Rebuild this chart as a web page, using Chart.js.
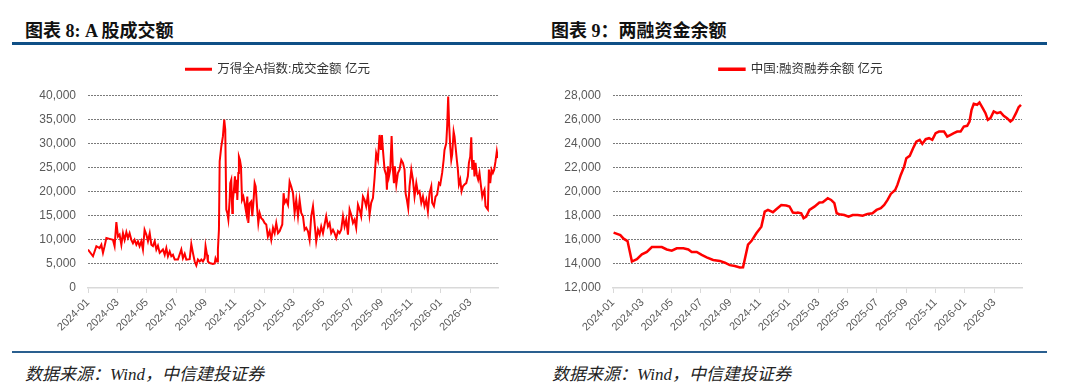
<!DOCTYPE html>
<html>
<head>
<meta charset="utf-8">
<script src="https://cdn.jsdelivr.net/npm/chart.js@4.4.1/dist/chart.umd.min.js"></script>
<style>
    body { margin: 0; width: 1080px; height: 390px; background: #fff; position: relative; overflow: hidden; }
    .title { position: absolute; top: 16px; line-height: 18px; font: bold 18px "Liberation Serif", "Noto Sans CJK SC", serif; color: #111; }
    .rule { position: absolute; left: 12px; width: 1035px; background: #0f4f86; }
    .source { position: absolute; top: 360px; line-height: 17px; font: italic 17px "Liberation Serif", "Noto Sans CJK SC", serif; color: #222; }
    canvas { position: absolute; top: 50px; }
</style>
</head>
<body>
<div class="title" style="left:25px">图表 8: A 股成交额</div>
<div class="title" style="left:551px">图表 9：两融资金余额</div>
<div class="rule" style="top:42px;height:3px"></div>
<canvas id="volumeChart" width="528" height="300" style="left:12px"></canvas>
<canvas id="marginChart" width="500" height="300" style="left:552px"></canvas>
<div class="rule" style="top:351px;height:2px;background:#2a5f8f"></div>
<div class="source" style="left:25px">数据来源：Wind，中信建投证券</div>
<div class="source" style="left:552px">数据来源：Wind，中信建投证券</div>
<script>
// x values are months since 2024-01
const tickLabels = ['2024-01', '2024-03', '2024-05', '2024-07', '2024-09', '2024-11', '2025-01',
    '2025-03', '2025-05', '2025-07', '2025-09', '2025-11', '2026-01', '2026-03'];

const volumeLabel = '万得全A指数:成交金额 亿元';
const volumeMonths = [
    0.00, 0.34, 0.57, 0.79, 0.91, 1.02, 1.13, 1.25, 1.47, 1.70,
    1.81, 1.93, 2.04, 2.15, 2.27, 2.38, 2.49, 2.61, 2.72, 2.83,
    2.95, 3.06, 3.17, 3.29, 3.40, 3.51, 3.63, 3.74, 3.85, 3.97,
    4.08, 4.20, 4.31, 4.42, 4.54, 4.65, 4.76, 4.88, 5.10, 5.22,
    5.33, 5.44, 5.56, 5.67, 5.78, 5.90, 6.12, 6.35, 6.46, 6.58,
    6.69, 6.92, 7.03, 7.14, 7.26, 7.37, 7.48, 7.60, 7.71, 7.82,
    7.94, 8.00, 8.10, 8.16, 8.28, 8.50, 8.62, 8.68, 8.78, 8.84,
    8.91, 8.96, 9.07, 9.18, 9.27, 9.34, 9.41, 9.48, 9.55, 9.64,
    9.68, 9.75, 9.82, 9.86, 9.93, 10.00, 10.05, 10.11, 10.16, 10.23,
    10.27, 10.34, 10.41, 10.48, 10.57, 10.66, 10.77, 10.84, 10.91, 11.00,
    11.11, 11.18, 11.27, 11.34, 11.41, 11.50, 11.59, 11.68, 11.79, 11.90,
    12.02, 12.13, 12.24, 12.36, 12.47, 12.59, 12.70, 12.81, 12.93, 13.04,
    13.22, 13.31, 13.38, 13.49, 13.61, 13.72, 13.83, 13.95, 14.06, 14.17,
    14.29, 14.40, 14.51, 14.63, 14.74, 14.85, 14.97, 15.08, 15.19, 15.31,
    15.42, 15.53, 15.65, 15.76, 15.87, 15.99, 16.10, 16.21, 16.33, 16.44,
    16.55, 16.67, 16.78, 16.89, 17.01, 17.12, 17.23, 17.35, 17.46, 17.57,
    17.69, 17.80, 17.91, 18.03, 18.14, 18.25, 18.37, 18.48, 18.59, 18.71,
    18.82, 18.93, 19.05, 19.16, 19.27, 19.39, 19.50, 19.61, 19.73, 19.84,
    19.93, 20.00, 20.07, 20.18, 20.29, 20.34, 20.41, 20.48, 20.57, 20.66,
    20.75, 20.82, 20.88, 20.98, 21.09, 21.20, 21.32, 21.43, 21.54, 21.61,
    21.70, 21.79, 21.88, 22.00, 22.11, 22.22, 22.34, 22.45, 22.56, 22.68,
    22.79, 22.90, 23.02, 23.13, 23.24, 23.36, 23.42, 23.54, 23.65, 23.76,
    23.88, 23.97, 24.10, 24.20, 24.26, 24.38, 24.44, 24.51, 24.58, 24.65,
    24.72, 24.78, 24.88, 24.94, 25.01, 25.10, 25.17, 25.24, 25.33, 25.42,
    25.51, 25.62, 25.74, 25.85, 25.92, 26.01, 26.08, 26.15, 26.24, 26.30,
    26.37, 26.46, 26.55, 26.64, 26.73, 26.83, 26.89, 26.98, 27.05, 27.14,
    27.21, 27.28, 27.37, 27.46, 27.55, 27.64, 27.73, 27.82, 27.89
];
const volumeValues = [
    8000, 6600, 8700, 8300, 9000, 7300, 8700, 10400, 10200, 10000,
    8700, 13700, 10700, 11100, 9000, 11400, 10000, 11600, 10400, 11400,
    10000, 9300, 10000, 9000, 9700, 8700, 9700, 8000, 12100, 11100,
    9700, 11400, 9000, 8700, 9700, 8000, 8800, 7300, 8000, 6900,
    8300, 6600, 7600, 6600, 6900, 5900, 5900, 8000, 6200, 7100,
    5900, 6000, 9100, 7300, 5500, 4700, 5900, 5500, 5900, 5500,
    6200, 8700, 6900, 5500, 5200, 5000, 5100, 6200, 5500, 8000,
    12100, 26300, 29400, 31500, 35000, 32900, 16300, 15600, 14200, 18300,
    21800, 22500, 15600, 18300, 20400, 23200, 19700, 22500, 18300, 23900,
    27300, 26600, 25300, 18300, 19000, 17600, 15600, 19000, 13500, 17600,
    18000, 14900, 18300, 21800, 21100, 17000, 13500, 15600, 14500, 14200,
    13500, 13200, 10700, 11800, 10000, 12500, 11400, 13500, 11400, 11800,
    13200, 19700, 17700, 18300, 17300, 22100, 21100, 19700, 15600, 18300,
    14900, 18300, 15600, 14900, 12100, 12500, 11800, 10000, 14900, 17000,
    13500, 9700, 12100, 11100, 12800, 11400, 13200, 14900, 12800, 13500,
    11400, 12100, 11400, 10400, 11800, 11400, 12100, 14900, 12800, 14200,
    11100, 16300, 15200, 13500, 14200, 12500, 17300, 16300, 14900, 19000,
    18300, 17000, 19400, 15200, 17700, 18700, 22800, 28000, 26600, 31800,
    28700, 31800, 28700, 24600, 23500, 20400, 25300, 23200, 24600, 31600,
    24600, 21800, 25300, 21500, 23900, 24600, 26600, 26000, 24600, 19700,
    18300, 16600, 21100, 24600, 22500, 19000, 21800, 19700, 20100, 17700,
    19000, 17000, 18300, 15900, 19700, 21100, 17700, 17000, 19000, 19400,
    21800, 21500, 23900, 26600, 28700, 30100, 33600, 39800, 33600, 29400,
    26600, 27700, 32500, 31500, 29400, 26600, 24600, 21500, 22500, 20100,
    21100, 21500, 21800, 23200, 26000, 27300, 31300, 24600, 26600, 23200,
    26000, 23500, 22500, 23900, 21500, 19000, 19700, 20400, 17000, 16600,
    16300, 24600, 21800, 24600, 23900, 24600, 26300, 28400, 27000
];

const marginLabel = '中国:融资融券余额 亿元';
const marginMonths = [
    0.04, 0.50, 0.72, 0.99, 1.29, 1.63, 1.97, 2.31, 2.65, 2.99,
    3.33, 3.67, 4.01, 4.35, 4.80, 5.14, 5.37, 5.71, 6.05, 6.39,
    6.83, 7.29, 7.63, 7.97, 8.31, 8.65, 8.87, 9.21, 9.44, 9.78,
    10.12, 10.35, 10.57, 10.91, 11.14, 11.48, 11.82, 12.04, 12.27, 12.50,
    12.61, 12.84, 13.00, 13.18, 13.40, 13.74, 14.08, 14.31, 14.65, 14.88,
    15.10, 15.26, 15.44, 15.78, 16.07, 16.35, 16.69, 17.03, 17.36, 17.70,
    17.98, 18.27, 18.50, 18.73, 18.95, 19.25, 19.40, 19.63, 19.86, 20.01,
    20.24, 20.47, 20.69, 20.92, 21.10, 21.33, 21.56, 21.78, 22.01, 22.24,
    22.58, 22.80, 23.03, 23.25, 23.48, 23.71, 23.93, 24.16, 24.32, 24.46,
    24.61, 24.84, 25.00, 25.22, 25.41, 25.57, 25.75, 25.97, 26.20, 26.43,
    26.65, 26.88, 27.11, 27.26, 27.49, 27.67, 27.83
];
const marginValues = [
    16600, 16400, 16100, 15900, 14200, 14400, 14800, 15000, 15400, 15400,
    15400, 15200, 15100, 15300, 15300, 15200, 15000, 15000, 14750, 14550,
    14330, 14250, 14100, 13900, 13830, 13700, 13720, 15600, 15900, 16550,
    17100, 18350, 18500, 18300, 18550, 18900, 18860, 18780, 18270, 18230,
    18270, 18210, 17800, 17930, 18490, 18760, 19100, 19130, 19460, 19320,
    19050, 18210, 18130, 18070, 17930, 18070, 18070, 18010, 18160, 18210,
    18490, 18630, 18900, 19320, 19820, 20150, 20570, 21400, 22090, 22790,
    22980, 23620, 24170, 24310, 23980, 24370, 24450, 24310, 24870, 25000,
    25000, 24590, 24730, 24870, 25000, 25000, 25420, 25480, 25840, 26810,
    27310, 27230, 27420, 26950, 26530, 25980, 26120, 26670, 26530, 26620,
    26310, 26120, 25840, 25980, 26530, 27030, 27230
];

const sansFont = '"Liberation Sans", "Noto Sans CJK SC", sans-serif';

// push the plot area down below the legend, and nudge the legend sideways
function legendPlacer(shift) {
    return {
        id: 'legendPlacer',
        beforeInit(chart) {
            const fit = chart.legend.fit;
            chart.legend.fit = function () {
                fit.call(this);
                this.height += 10;
            };
        },
        afterLayout(chart) {
            chart.legend.left += shift;
            chart.legend.right += shift;
        }
    };
}

function makeChart(id, label, months, values, yMin, yMax, yStep, yWidth, padRight, lineWidth, legendShift) {
    const points = months.map((m, i) => ({ x: m, y: values[i] }));
    return new Chart(document.getElementById(id), {
        type: 'line',
        data: {
            datasets: [{
                label: label,
                data: points,
                borderColor: '#ff0000',
                backgroundColor: '#ff0000',
                borderWidth: lineWidth,
                pointRadius: 0,
                tension: 0,
                fill: false
            }]
        },
        options: {
            responsive: false,
            animation: false,
            layout: { padding: { top: 3, right: padRight, bottom: 0, left: 0 } },
            plugins: {
                legend: {
                    position: 'top',
                    labels: {
                        boxWidth: 25,
                        boxHeight: 1,
                        color: '#333',
                        padding: 10,
                        font: { size: 12.5, family: sansFont }
                    }
                },
                tooltip: { enabled: false }
            },
            scales: {
                x: {
                    type: 'linear',
                    min: 0,
                    max: 27.9,
                    ticks: {
                        stepSize: 2,
                        includeBounds: false,
                        autoSkip: false,
                        minRotation: 45,
                        maxRotation: 45,
                        color: '#595959',
                        font: { size: 11, family: sansFont },
                        callback: v => tickLabels[Math.round(v / 2)]
                    },
                    grid: { drawOnChartArea: false, drawTicks: true, tickLength: 5, color: '#d9d9d9' },
                    border: { color: '#d9d9d9', width: 1.5 },
                    afterFit: s => { s.height = 62; }
                },
                y: {
                    min: yMin,
                    max: yMax,
                    ticks: {
                        stepSize: yStep,
                        color: '#595959',
                        padding: 12,
                        font: { size: 12, family: sansFont },
                        callback: v => v.toLocaleString('en-US')
                    },
                    grid: {
                        drawTicks: false,
                        color: ctx => ctx.index === 0 ? 'rgba(0,0,0,0)' : '#7a7a7a',
                        lineWidth: 1
                    },
                    border: { display: false, dash: [2, 1] },
                    afterFit: s => { s.width = yWidth; }
                }
            }
        },
        plugins: [legendPlacer(legendShift)]
    });
}

makeChart('volumeChart', volumeLabel, volumeMonths, volumeValues, 0, 40000, 5000, 76, 42, 2, 23);
makeChart('marginChart', marginLabel, marginMonths, marginValues, 12000, 28000, 2000, 61, 30, 2.5, 14);
</script>
</body>
</html>
